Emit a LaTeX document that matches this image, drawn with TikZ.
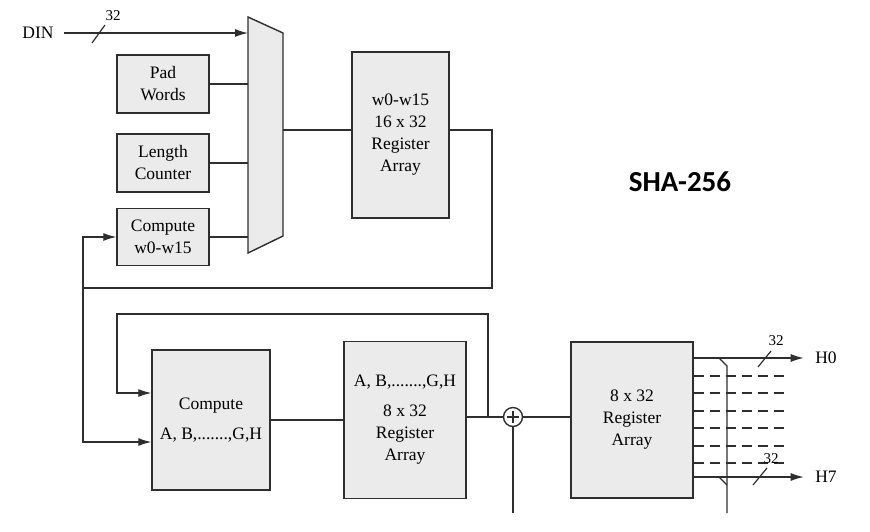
\documentclass[tikz,border=0pt]{standalone}
\usepackage{fontspec}
\setmainfont{Liberation Serif}
\newfontfamily\titlefont{Carlito}
\usepackage{xcolor}
\usetikzlibrary{calc,arrows.meta}

\definecolor{boxfill}{HTML}{EBEBEB}
\definecolor{wire}{HTML}{2E2E2E}

\tikzset{
  blk/.style={draw=wire,fill=boxfill,line width=1.4pt,align=center,inner sep=0pt},
  lbl/.style={font=\fontsize{15}{17}\selectfont,inner sep=0pt},
}

\begin{document}
\begin{tikzpicture}[x=1pt,y=-1pt,line width=1.2pt,draw=wire,
    font=\fontsize{17.5}{22}\selectfont,>={Latex[length=13pt,width=8pt]}]
    \useasboundingbox (0,0) rectangle (870,531);

    % input stage
    \node[inner sep=0pt] (din) at (38,33) {DIN};
    \node[blk,minimum width=92pt,minimum height=58pt] (pad_words) at (163,84) {Pad\\Words};
    \node[blk,minimum width=92pt,minimum height=58pt] (len_counter) at (163,163) {Length\\Counter};
    \node[blk,minimum width=92pt,minimum height=57pt] (compute_w) at (163,237) {Compute\\w0-w15};

    % mux
    \coordinate (mux_nw) at (248,17);
    \coordinate (mux_out) at (283,130);
    \draw[fill=boxfill,line width=1.4pt] (mux_nw) -- (283,33) -- (283,236) -- (248,253) -- cycle;

    \node[blk,minimum width=97pt,minimum height=166pt] (w_reg) at (400.5,135)
      {w0-w15\\16 x 32\\Register\\Array};

    % round stage
    \node[blk,minimum width=118pt,minimum height=140pt] (comp_abh) at (211,420)
      {Compute\\[8pt]A, B,.......,G,H};
    \node[blk,minimum width=122pt,minimum height=157pt] (abh_reg) at (405,420)
      {A, B,.......,G,H\\[8pt]8 x 32\\Register\\Array};
    \node[draw=wire,circle,line width=1.4pt,minimum size=19pt,inner sep=0pt,
      path picture={\draw[line width=1.2pt] ($(path picture bounding box.north)!0.2!(path picture bounding box.south)$)
        -- ($(path picture bounding box.north)!0.8!(path picture bounding box.south)$)
        ($(path picture bounding box.west)!0.2!(path picture bounding box.east)$)
        -- ($(path picture bounding box.west)!0.8!(path picture bounding box.east)$);}] (plus) at (513,417) {};
    \node[blk,minimum width=122pt,minimum height=156pt] (out_reg) at (632,420)
      {8 x 32\\Register\\Array};
    \node[inner sep=0pt] (h0) at (826,358) {H0};
    \node[inner sep=0pt] (h7) at (826,477) {H7};

    \node[font=\titlefont\fontsize{29}{32}\selectfont\bfseries] (title) at (680,182) {SHA-256};

    \coordinate (fb_r) at (492,288);
    \coordinate (fb_l) at (83,288);
    \coordinate (loop_r) at (488,314);
    \coordinate (loop_l) at (117,314);
    \coordinate (k_in) at (513,513);

    % wires
    \draw[->] ([xshift=10pt]din.east) -- (din -| mux_nw);
    \draw (92,43) -- (105,25);
    \node[lbl] at (113,16) {32};
    \draw (pad_words.east) -- (pad_words.east -| mux_nw);
    \draw (len_counter.east) -- (len_counter.east -| mux_nw);
    \draw (compute_w.east) -- (compute_w.east -| mux_nw);
    \draw (mux_out) -- (mux_out -| w_reg.west);
    \draw (w_reg.east |- mux_out) -| (fb_r) -- (fb_l);
    \draw[->] (fb_l) |- (compute_w.west);
    \draw[->] (fb_l) |- ([yshift=-22pt]comp_abh.west);

    \draw (comp_abh.east) -- (abh_reg.west);
    \draw (abh_reg.east |- plus) -- (plus.west);
    \draw[->] (loop_r |- plus) -- (loop_r) -- (loop_l) |- ([yshift=27pt]comp_abh.west);
    \draw (k_in) -- (plus.south);
    \draw (plus.east) -- (plus -| out_reg.west);

    % outputs
    \draw[->] (out_reg.east |- h0) -- ([xshift=-11pt]h0.west);
    \draw[->] (out_reg.east |- h7) -- ([xshift=-11pt]h7.west);
    \foreach \y in {376,393,411,428,446,463}
      \draw[line width=1.6pt,dash pattern=on 10pt off 6pt] (out_reg.east |- 0,\y) -- (787,\y);
    \draw (719,358) -- (727,366) -- (727,513);
    \draw (719,477) -- (727,485);
    \draw (758,367) -- (771,351);
    \node[lbl] at (776,341) {32};
    \draw (753,485) -- (767,468);
    \node[lbl] at (771,459) {32};

  \end{tikzpicture}
\end{document}
